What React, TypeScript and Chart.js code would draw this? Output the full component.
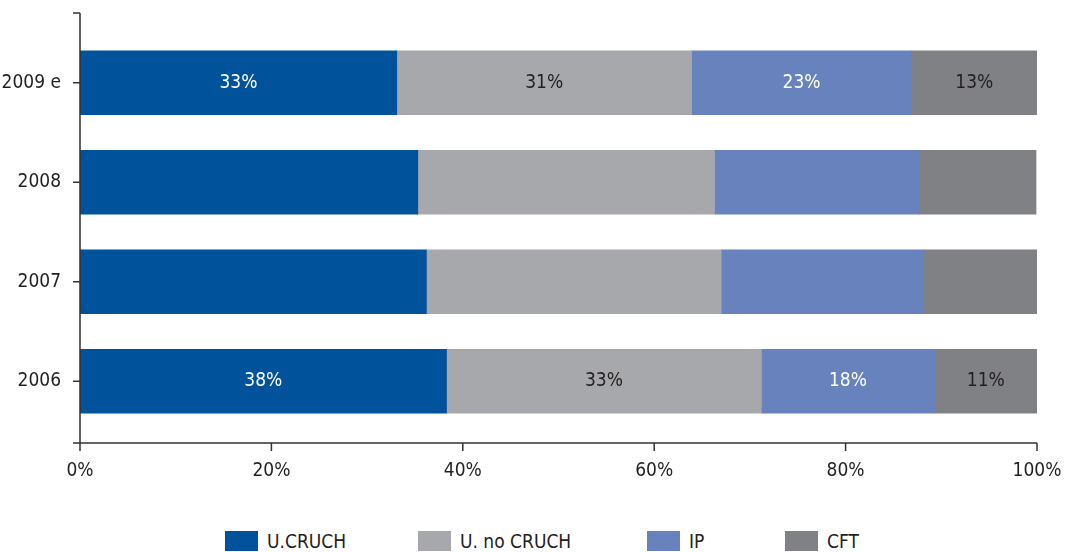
import React, { useEffect, useRef } from "react";
import { Chart, registerables } from "chart.js";

Chart.register(...registerables);

const categories = ["2009 e", "2008", "2007", "2006"];
const seriesNames = ["U.CRUCH", "U. no CRUCH", "IP", "CFT"];
const uCruch = [33.1, 35.3, 36.2, 38.3];
const uNoCruch = [30.8, 31.0, 30.8, 32.9];
const ip = [23.0, 21.4, 21.1, 18.1];
const cft = [13.1, 12.2, 11.9, 10.7];
const labeledCategories = ["2009 e", "2006"];
const xTickValues = [0, 20, 40, 60, 80, 100];

const colors = ["#00529b", "#a7a8ab", "#6882be", "#808184"];
const labelColors = ["#ffffff", "#231f20", "#ffffff", "#231f20"];
const legendLeft = [225, 418, 647, 785];
const FONT = '"DejaVu Sans Condensed", "Liberation Sans Narrow", sans-serif';
const TEXT = "#231f20";
const AXIS = "#333333";

const axisPlugin = {
  id: "customAxes",
  afterDraw(chart: any) {
    const { ctx, chartArea } = chart;
    const xs = chart.scales.x;
    const ys = chart.scales.y;
    const top = chartArea.top - 20;
    const bottom = chartArea.bottom + 12;
    const left = chartArea.left;
    ctx.save();
    ctx.strokeStyle = AXIS;
    ctx.lineWidth = 1.5;
    ctx.beginPath();
    ctx.moveTo(left, top);
    ctx.lineTo(left, bottom);
    ctx.moveTo(left - 7, bottom);
    ctx.lineTo(xs.getPixelForValue(100), bottom);
    ctx.moveTo(left - 7, top);
    ctx.lineTo(left, top);
    categories.forEach((_, i) => {
      const y = ys.getPixelForValue(i);
      ctx.moveTo(left - 7, y);
      ctx.lineTo(left, y);
    });
    xTickValues.forEach((v) => {
      const x = xs.getPixelForValue(v);
      ctx.moveTo(x, bottom);
      ctx.lineTo(x, bottom + 8);
    });
    ctx.stroke();
    ctx.restore();
  },
};

const labelPlugin = {
  id: "segmentLabels",
  afterDatasetsDraw(chart: any) {
    const { ctx } = chart;
    ctx.save();
    ctx.font = `19px ${FONT}`;
    ctx.textAlign = "center";
    ctx.textBaseline = "middle";
    chart.data.datasets.forEach((ds: any, di: number) => {
      const meta = chart.getDatasetMeta(di);
      meta.data.forEach((el: any, i: number) => {
        if (!labeledCategories.includes(categories[i])) return;
        const v = ds.data[i];
        ctx.fillStyle = labelColors[di];
        ctx.fillText(`${Math.round(v)}%`, (el.x + el.base) / 2, el.y);
      });
    });
    ctx.restore();
  },
};

export default function App() {
  const ref = useRef<HTMLCanvasElement | null>(null);
  useEffect(() => {
    if (!ref.current) return;
    const series = [uCruch, uNoCruch, ip, cft];
    const chart = new Chart(ref.current, {
      type: "bar",
      data: {
        labels: categories,
        datasets: series.map((d, i) => ({
          label: seriesNames[i],
          data: d,
          backgroundColor: colors[i],
          borderWidth: 0,
          barThickness: 64,
        })),
      },
      options: {
        indexAxis: "y",
        animation: false,
        responsive: true,
        maintainAspectRatio: false,
        layout: { padding: { top: 33, right: 37, left: 0, bottom: 0 } },
        plugins: {
          legend: { display: false },
          tooltip: { enabled: false },
        },
        scales: {
          x: {
            stacked: true,
            min: 0,
            max: 100,
            grid: { display: false, drawTicks: false },
            border: { display: false },
            ticks: {
              stepSize: 20,
              padding: 29,
              maxRotation: 0,
              color: TEXT,
              font: { family: FONT, size: 19 },
              callback: (v: any) => `${v}%`,
            },
            afterFit: (s: any) => {
              s.height = 69;
              s.paddingLeft = 0;
              s.paddingRight = 0;
            },
          },
          y: {
            stacked: true,
            grid: { display: false, drawTicks: false },
            border: { display: false },
            ticks: {
              padding: 19,
              color: TEXT,
              font: { family: FONT, size: 19 },
            },
            afterFit: (s: any) => {
              s.width = 80;
            },
          },
        },
      },
      plugins: [axisPlugin, labelPlugin],
    });
    return () => chart.destroy();
  }, []);

  return (
    <div
      style={{
        position: "fixed",
        left: 0,
        top: 0,
        width: 1074,
        height: 552,
        background: "#ffffff",
        overflow: "hidden",
      }}
    >
      <div style={{ position: "absolute", left: 0, top: 0, width: 1074, height: 500 }}>
        <canvas ref={ref} />
      </div>
      {seriesNames.map((n, i) => (
        <div
          key={n}
          style={{
            position: "absolute",
            left: legendLeft[i],
            top: 531,
            height: 20,
            display: "flex",
            alignItems: "center",
            fontFamily: FONT,
            fontSize: 19,
            color: TEXT,
            whiteSpace: "nowrap",
          }}
        >
          <span
            style={{
              display: "inline-block",
              width: 33,
              height: 20,
              background: colors[i],
              marginRight: 9,
            }}
          />
          <span style={{ lineHeight: "20px" }}>{n}</span>
        </div>
      ))}
    </div>
  );
}
